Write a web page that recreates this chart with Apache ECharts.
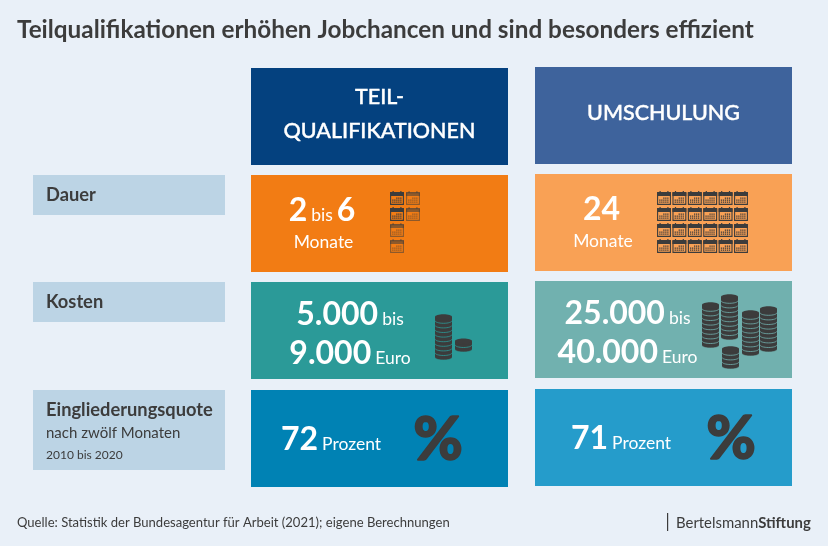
<!DOCTYPE html>
<html>
<head>
<meta charset="utf-8">
<style>
  html, body { margin: 0; padding: 0; background: #e9f0f8; }
  #chart { width: 828px; height: 546px; }
</style>
<script src="https://cdn.jsdelivr.net/npm/echarts@6/dist/echarts.min.js"></script>
</head>
<body>
<div id="chart"></div>
<script>
// Data
const titleText = 'Teilqualifikationen erhöhen Jobchancen und sind besonders effizient';
const sourceText = 'Quelle: Statistik der Bundesagentur für Arbeit (2021); eigene Berechnungen';
const columns = ['Teilqualifikationen', 'Umschulung'];
const rows = ['Kopf', 'Dauer', 'Kosten', 'Eingliederungsquote'];
const headerLabels = ['TEIL-\nQUALIFIKATIONEN', 'UMSCHULUNG'];
const monthsMin = [2, 24];
const monthsMax = [6, 24];
const costFrom = ['5.000', '25.000'];
const costTo = ['9.000', '40.000'];
const quota = [72, 71];
const coinStacks = [[9, 2], [9, 9, 9, 9, 4]];

// Colours, row by row
const BG = '#e9f0f8';
const INK = '#3c3c3c';
const LABEL_BG = '#bcd4e5';
const cellColors = [
  ['#04417f', '#3e639c'],
  ['#f27c14', '#f9a155'],
  ['#2b9a98', '#71b1af'],
  ['#0082b4', '#259ccb']
];

// Layout
const FONT = 'Lato, "Noto Sans", sans-serif';
const CELL_W = 257;
const CELL_H = 97;
const COL_SHIFT = [0, -1];
const ROW_SHIFT = [0, 0, 0, 1];
const labelBox = { left: 33, width: 192, heights: [0, 40, 40, 80] };
const calendarStart = [139, 122];         // x offset from the cell's left edge
const calendarTop = 16;
const calendarStep = [16, 15.4];
const calendarRowStep = 16;
const calendarCols = [2, 6];
const valueCenter = { dauer: [72.5, 68], kosten: [99, 92.5], quote: [80, 86] };
const percentCenter = [187, 196];
const coinPlaces = [
  [[184, 76.5], [204, 68.5]],
  [[167, 65.5], [186, 57.5], [207, 73.5], [225, 69.5], [187, 86.5]]
];

function cellBox(api, col, row) {
  const c = api.coord([col, row]);
  return { x: c[0] - CELL_W / 2, y: c[1] - CELL_H / 2 + COL_SHIFT[col] + ROW_SHIFT[row] };
}

function renderCell(params, api) {
  const col = api.value(0);
  const row = api.value(1);
  const b = cellBox(api, col, row);
  const children = [{
    type: 'rect',
    shape: { x: b.x, y: b.y, width: CELL_W, height: CELL_H },
    style: { fill: cellColors[row][col] }
  }];
  if (row === 0) {
    children.push({
      type: 'text',
      style: {
        x: b.x + CELL_W / 2, y: b.y + CELL_H / 2 - 2,
        text: headerLabels[col],
        fill: '#fff', stroke: '#fff', lineWidth: 0.4,
        font: '500 21.5px ' + FONT, lineHeight: 34,
        align: 'center', verticalAlign: 'middle'
      }
    });
  }
  return { type: 'group', children };
}

const richStyles = {
  b: { font: 'bold 32px ' + FONT, fill: '#fff' },
  s: { font: '17.5px ' + FONT, fill: '#fff', padding: [0, 0, 3, 4], verticalAlign: 'bottom' },
  t: { font: '17.5px ' + FONT, fill: '#fff', padding: [0, 4, 3, 4], verticalAlign: 'bottom' }
};

function valueText(x, y, text) {
  return {
    type: 'text',
    style: { x, y, text, rich: richStyles, align: 'center', verticalAlign: 'bottom' }
  };
}

function renderValues(params, api) {
  const col = api.value(0);
  const row = api.value(1);
  const b = cellBox(api, col, row);
  const children = [];
  if (row === 1) {
    const cx = b.x + valueCenter.dauer[col];
    const top = monthsMin[col] === monthsMax[col]
      ? '{b|' + monthsMin[col] + '}'
      : '{b|' + monthsMin[col] + '}{t|bis}{b|' + monthsMax[col] + '}';
    children.push(valueText(cx - 1.5, b.y + 52, top));
    children.push({
      type: 'text',
      style: {
        x: cx, y: b.y + 67, text: 'Monate', fill: '#fff',
        font: '17.5px ' + FONT, align: 'center', verticalAlign: 'middle'
      }
    });
  } else if (row === 2) {
    const cx = b.x + valueCenter.kosten[col];
    children.push(valueText(cx, b.y + 49, '{b|' + costFrom[col] + '}{s|bis}'));
    children.push(valueText(cx, b.y + 88, '{b|' + costTo[col] + '}{s|Euro}'));
  } else if (row === 3) {
    const cx = b.x + valueCenter.quote[col];
    children.push(valueText(cx, b.y + 66, '{b|' + quota[col] + '}{s|Prozent}'));
    children.push({
      type: 'text',
      style: {
        x: b.x + percentCenter[col], y: b.y + 51, text: '%', fill: INK,
        stroke: INK, lineWidth: 1.5,
        font: '900 60px ' + FONT, align: 'center', verticalAlign: 'middle'
      }
    });
  }
  return { type: 'group', children };
}

function calendar(x, y, opacity) {
  const els = [
    { type: 'rect', shape: { x: x + 0.6, y: y + 1.6, width: 12.8, height: 11.8 },
      style: { fill: 'none', stroke: INK, lineWidth: 1.1, opacity } },
    { type: 'rect', shape: { x, y: y + 1.5, width: 14, height: 3.5 }, style: { fill: INK, opacity } },
    { type: 'rect', shape: { x: x + 2.5, y, width: 1.2, height: 2 }, style: { fill: INK, opacity } },
    { type: 'rect', shape: { x: x + 10.3, y, width: 1.2, height: 2 }, style: { fill: INK, opacity } }
  ];
  for (let r = 0; r < 3; r++) {
    for (let c = 0; c < 5; c++) {
      if (r === 0 && c < 2) continue;
      els.push({
        type: 'rect',
        shape: { x: x + 2.2 + c * 2, y: y + 6.5 + r * 2, width: 1.3, height: 1.3 },
        style: { fill: INK, opacity }
      });
    }
  }
  return { type: 'group', children: els };
}

function renderCalendars(params, api) {
  const col = api.value(0);
  const b = cellBox(api, col, 1);
  const perRow = calendarCols[col];
  const lo = monthsMin[col];
  const hi = monthsMax[col];
  const children = [];
  // the range chart stacks its last two calendars one per line
  for (let i = 0; i < hi; i++) {
    let cx, cy;
    if (col === 0) {
      cx = i < 4 ? i % 2 : 0;
      cy = i < 4 ? Math.floor(i / 2) : i - 2;
    } else {
      cx = i % perRow;
      cy = Math.floor(i / perRow);
    }
    const x = b.x + calendarStart[col] + cx * calendarStep[col];
    const y = b.y - COL_SHIFT[col] + calendarTop + cy * calendarRowStep;
    const dark = col === 1 || (cx === 0 && cy < lo);
    children.push(calendar(x, y, dark ? 1 : 0.55));
  }
  return { type: 'group', children };
}

function coinStack(x, bottom, count, cellFill) {
  const w = 17, coinH = 4.6, ry = 2.6;
  const els = [];
  for (let i = 0; i < count; i++) {
    const y = bottom - i * coinH;
    els.push({ type: 'ellipse', shape: { cx: x + w / 2, cy: y, rx: w / 2, ry },
      style: { fill: INK, stroke: cellFill, lineWidth: 0.8 } });
    els.push({ type: 'rect', shape: { x, y: y - coinH + 0.8, width: w, height: coinH - 0.8 },
      style: { fill: INK } });
    els.push({ type: 'ellipse', shape: { cx: x + w / 2, cy: y - coinH + 0.8, rx: w / 2, ry },
      style: { fill: INK } });
  }
  return els;
}

function renderCoins(params, api) {
  const col = api.value(0);
  const b = cellBox(api, col, 2);
  let children = [];
  coinStacks[col].forEach(function (count, i) {
    const p = coinPlaces[col][i];
    children = children.concat(coinStack(b.x + p[0], b.y + p[1] - 1, count, cellColors[2][col]));
  });
  return { type: 'group', children };
}

function renderRowLabel(params, api) {
  const row = api.value(0);
  const c = api.coord([0, row]);
  const top = c[1] - CELL_H / 2 + ROW_SHIFT[row];
  const x = labelBox.left;
  const textX = x + 13;
  const children = [{
    type: 'rect',
    shape: { x, y: top, width: labelBox.width, height: labelBox.heights[row] },
    style: { fill: LABEL_BG }
  }];
  children.push({
    type: 'text',
    style: {
      x: textX, y: top + (row === 3 ? 20 : 20), text: rows[row], fill: INK,
      font: 'bold 18.3px ' + FONT, verticalAlign: 'middle'
    }
  });
  if (row === 3) {
    children.push({
      type: 'text',
      style: { x: textX, y: top + 43, text: 'nach zwölf Monaten', fill: INK,
        font: '15px ' + FONT, verticalAlign: 'middle' }
    });
    children.push({
      type: 'text',
      style: { x: textX, y: top + 65, text: '2010 bis 2020', fill: INK,
        font: '12px ' + FONT, verticalAlign: 'middle' }
    });
  }
  return { type: 'group', children };
}

const cellData = [];
rows.forEach(function (r, ri) {
  columns.forEach(function (c, ci) { cellData.push([ci, ri]); });
});

const chart = echarts.init(document.getElementById('chart'), null, { renderer: 'canvas' });
chart.setOption({
  backgroundColor: BG,
  animation: false,
  title: {
    text: titleText,
    left: 12,
    top: 13,
    textStyle: { fontFamily: 'Lato', fontWeight: 'bold', fontSize: 24.3, color: INK }
  },
  grid: { left: 237.5, top: 63, width: 568, height: 428 },
  xAxis: { type: 'category', data: columns, show: false },
  yAxis: { type: 'category', data: rows, inverse: true, show: false },
  graphic: [
    {
      type: 'text', left: 17, top: 516,
      style: { text: sourceText, fill: INK, font: '13.05px ' + FONT }
    },
    {
      type: 'rect', left: 667, top: 513,
      shape: { width: 1.2, height: 18 }, style: { fill: INK }
    },
    {
      type: 'text', left: 676, top: 516,
      style: {
        text: '{a|Bertelsmann}{c|Stiftung}',
        rich: {
          a: { font: '14.9px ' + FONT, fill: INK },
          c: { font: 'bold 14.9px ' + FONT, fill: INK }
        }
      }
    }
  ],
  series: [
    { type: 'custom', renderItem: renderRowLabel, data: [[1], [2], [3]], silent: true, clip: false },
    { type: 'custom', renderItem: renderCell, data: cellData, silent: true, clip: false },
    { type: 'custom', renderItem: renderValues, data: cellData, silent: true, clip: false, z: 3 },
    { type: 'custom', renderItem: renderCalendars, data: [[0], [1]], silent: true, clip: false, z: 3 },
    { type: 'custom', renderItem: renderCoins, data: [[0], [1]], silent: true, clip: false, z: 3 }
  ]
});
</script>
</body>
</html>
